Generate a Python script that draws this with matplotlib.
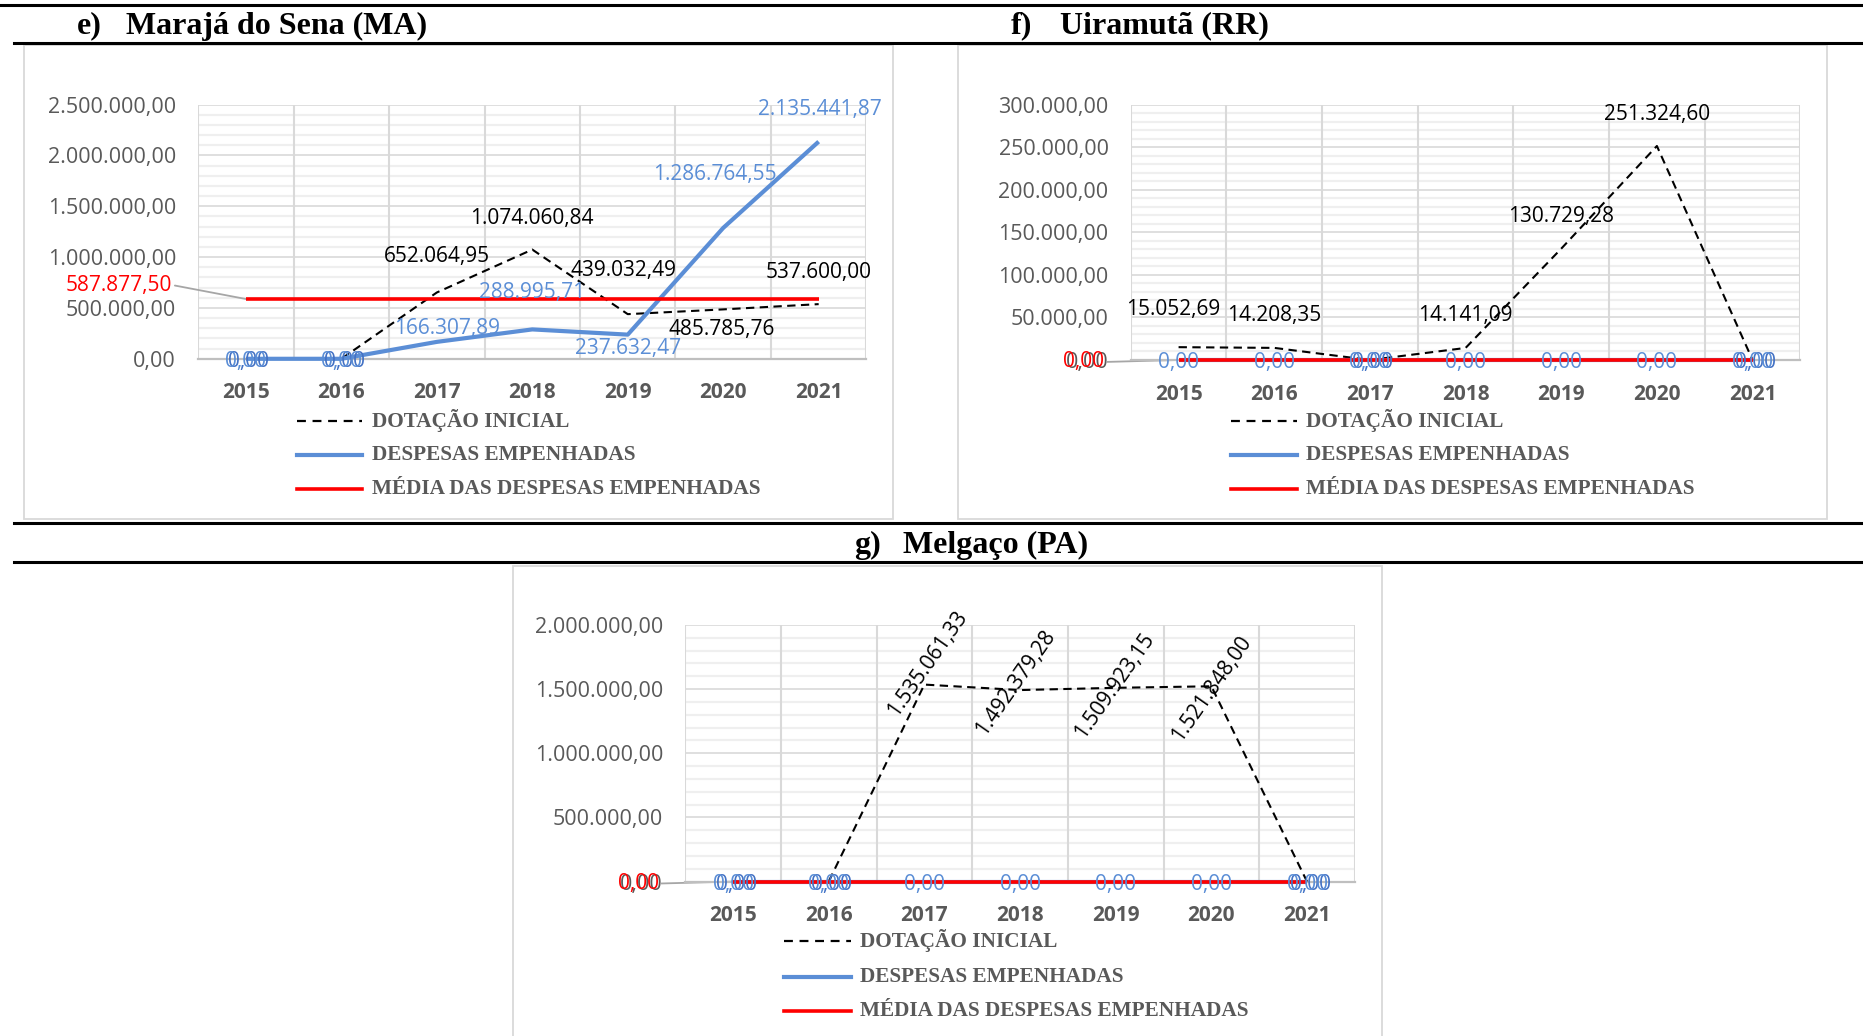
import matplotlib
matplotlib.use('Agg')
import matplotlib.pyplot as plt
from matplotlib.lines import Line2D
from matplotlib.patches import Rectangle
from matplotlib.ticker import MultipleLocator

# ---------------- data ----------------
years = ['2015', '2016', '2017', '2018', '2019', '2020', '2021']

e_title = 'Marajá do Sena (MA)'
e_dotacao = [0.00, 0.00, 652064.95, 1074060.84, 439032.49, 485785.76, 537600.00]
e_despesas = [0.00, 0.00, 166307.89, 288995.71, 237632.47, 1286764.55, 2135441.87]
e_media = 587877.50

f_title = 'Uiramutã (RR)'
f_dotacao = [15052.69, 14208.35, 0.00, 14141.09, 130729.28, 251324.60, 0.00]
f_despesas = [0.00, 0.00, 0.00, 0.00, 0.00, 0.00, 0.00]
f_media = 0.00

g_title = 'Melgaço (PA)'
g_dotacao = [0.00, 0.00, 1535061.33, 1492379.28, 1509923.15, 1521848.00, 0.00]
g_despesas = [0.00, 0.00, 0.00, 0.00, 0.00, 0.00, 0.00]
g_media = 0.00

legend_labels = ['DOTAÇÃO INICIAL', 'DESPESAS EMPENHADAS', 'MÉDIA DAS DESPESAS EMPENHADAS']

# ---------------- style ----------------
DW, DH = 1568, 872
BLUE = '#5B8ED6'
BLUE_DARK = '#4472C4'
RED = '#FF0000'
GRAY_TXT = '#595959'
SANS = ['Open Sans', 'DejaVu Sans']
SERIF = ['Liberation Serif', 'DejaVu Serif']
LBL = 15

fig = plt.figure(figsize=(18.63, 10.36), dpi=100)


def fx(x):
    return x / DW


def fy(y):
    return 1 - y / DH


def br(v):
    s = f"{v:,.2f}"
    return s.replace(',', '#').replace('.', ',').replace('#', '.')


# black rules
for (x0, y) in [(0, 4), (12, 36), (12, 440), (12, 473)]:
    fig.add_artist(Line2D([fx(x0), 1], [fy(y), fy(y)], color='black', lw=2.2,
                          transform=fig.transFigure))

# panel frames
for (x0, y0, x1, y1) in [(20, 38, 752, 437), (806, 38, 1538, 437), (432, 476, 1163, 880)]:
    fig.add_artist(Rectangle((fx(x0), fy(y1)), fx(x1) - fx(x0), fy(y0) - fy(y1),
                             transform=fig.transFigure, fill=False,
                             edgecolor='#D9D9D9', lw=1.3))

# titles
for (xl, xt, y, letter, title) in [(65, 106, 22, 'e)', e_title),
                                    (851, 892, 22, 'f)', f_title),
                                    (719, 760, 459, 'g)', g_title)]:
    fig.text(fx(xl), fy(y), letter, ha='left', va='center', family=SERIF,
             weight='bold', fontsize=23)
    fig.text(fx(xt), fy(y), title, ha='left', va='center', family=SERIF,
             weight='bold', fontsize=23)


def legend(xl0, xl1, xt, ys):
    styles = [dict(color='black', lw=1.6, ls=(0, (4, 3))),
              dict(color=BLUE, lw=3.0),
              dict(color=RED, lw=2.6)]
    for y, st, lab in zip(ys, styles, legend_labels):
        fig.add_artist(Line2D([fx(xl0), fx(xl1)], [fy(y), fy(y)],
                              transform=fig.transFigure, **st))
        fig.text(fx(xt), fy(y), lab, ha='left', va='center', family=SERIF,
                 weight='bold', fontsize=15.3, color=GRAY_TXT)


def make_axes(x0, x1, ytop, ybot, ymax, major, minor, ytick_labels):
    ax = fig.add_axes([fx(x0), fy(ybot), fx(x1) - fx(x0), fy(ytop) - fy(ybot)])
    ax.set_xlim(-0.5, 6.5)
    ax.set_ylim(0, ymax)
    ax.patch.set_alpha(0)
    for s in ['top', 'right', 'left']:
        ax.spines[s].set_visible(False)
    ax.spines['bottom'].set_color('#BFBFBF')
    ax.spines['bottom'].set_linewidth(1.6)
    ax.spines['bottom'].set_zorder(2.5)
    yt = [i * major for i in range(len(ytick_labels))]
    ax.set_yticks(yt)
    ax.set_yticklabels(ytick_labels, family=SANS, fontsize=15.5, color=GRAY_TXT)
    ax.yaxis.set_minor_locator(MultipleLocator(minor))
    ax.set_xticks(range(7))
    ax.set_xticklabels(years, family=SANS, fontsize=LBL, color=GRAY_TXT, weight='bold')
    ax.tick_params(axis='both', which='both', length=0)
    ax.tick_params(axis='y', pad=16)
    ax.tick_params(axis='x', pad=17)
    ax.grid(which='minor', axis='y', color='#EFEFEF', lw=1.6, zorder=0)
    ax.grid(which='major', axis='y', color='#D9D9D9', lw=1.2, zorder=0.5)
    ax.set_axisbelow(True)
    for b in [-0.5 + i for i in range(8)]:
        ax.axvline(b, color='#D9D9D9', lw=1.5, zorder=0.6)
    return ax


def lab(ax, i, v, text, dx, dy, color, rot=0, size=LBL):
    ax.annotate(text, xy=(i, v), xytext=(dx, dy), textcoords='offset pixels',
                ha='center', va='center', color=color, family=SANS, fontsize=size,
                rotation=rot, rotation_mode='anchor', zorder=10, annotation_clip=False)


def plot_series(ax, dot, desp, media):
    x = range(7)
    ax.plot(x, dot, color='black', lw=1.5, ls=(0, (4, 2.6)), zorder=3, clip_on=False)
    ax.plot(x, desp, color=BLUE, lw=3.0, zorder=4, solid_capstyle='butt', clip_on=False)
    ax.plot([0, 6], [media, media], color=RED, lw=2.6, zorder=5,
            solid_capstyle='butt', clip_on=False)


# ---------------- panel e ----------------
axe = make_axes(166.8, 729.2, 88, 302, 2500000, 500000, 100000,
                ['0,00', '500.000,00', '1.000.000,00', '1.500.000,00',
                 '2.000.000,00', '2.500.000,00'])
plot_series(axe, e_dotacao, e_despesas, e_media)
e_desp_off = [(0, -3), (0, -3), (10, 13), (0, 37), (0, -14), (-8, 53), (1, 32)]
e_dot_off = [None, None, (0, 36), (0, 31), (-4, 44), (-2, -20), (0, 32)]
for i in range(7):
    if e_dotacao[i] == 0:
        lab(axe, i, e_dotacao[i], br(e_dotacao[i]), 3, -3, BLUE_DARK)
    else:
        dx, dy = e_dot_off[i]
        lab(axe, i, e_dotacao[i], br(e_dotacao[i]), dx, dy, 'black')
    dx, dy = e_desp_off[i]
    lab(axe, i, e_despesas[i], br(e_despesas[i]), dx, dy, BLUE)
axe.annotate(br(e_media), xy=(0, e_media), xytext=(-127, 14), textcoords='offset pixels',
             ha='center', va='center', color=RED, family=SANS, fontsize=LBL,
             annotation_clip=False,
             arrowprops=dict(arrowstyle='-', color='#A6A6A6', lw=1.3, shrinkA=0,
                             shrinkB=0, relpos=(1, 0.5)))
legend(250, 305, 313, [354, 383, 412])

# ---------------- panel f ----------------
axf = make_axes(951.7, 1515.3, 88, 303, 300000, 50000, 10000,
                ['0,00', '50.000,00', '100.000,00', '150.000,00', '200.000,00',
                 '250.000,00', '300.000,00'])
plot_series(axf, f_dotacao, f_despesas, f_media)
f_dot_off = [(-5, 38), (0, 32), None, (0, 32), (0, 32), (0, 31), None]
for i in range(7):
    if f_dotacao[i] == 0:
        lab(axf, i, f_dotacao[i], br(f_dotacao[i]), 3, -3, BLUE_DARK)
    else:
        dx, dy = f_dot_off[i]
        lab(axf, i, f_dotacao[i], br(f_dotacao[i]), dx, dy, 'black')
    lab(axf, i, f_despesas[i], br(f_despesas[i]), 0, -3, BLUE)
axf.annotate(br(f_media), xy=(0, f_media), xytext=(-95, -2), textcoords='offset pixels',
             ha='center', va='center', color=RED, family=SANS, fontsize=LBL,
             annotation_clip=False, zorder=1,
             arrowprops=dict(arrowstyle='-', color='#A6A6A6', lw=1.3, shrinkA=0,
                             shrinkB=0, relpos=(1, 0.5)))
legend(1036, 1092, 1099, [354, 383, 412])

# ---------------- panel g ----------------
axg = make_axes(576.7, 1140.3, 526, 742, 2000000, 500000, 100000,
                ['0,00', '500.000,00', '1.000.000,00', '1.500.000,00', '2.000.000,00'])
plot_series(axg, g_dotacao, g_despesas, g_media)
g_dot_off = [None, None, (3, 21), (-5, 7), (-1, 2), (0, -2), None]
for i in range(7):
    if g_dotacao[i] == 0:
        lab(axg, i, g_dotacao[i], br(g_dotacao[i]), 3, -3, BLUE_DARK)
    else:
        dx, dy = g_dot_off[i]
        lab(axg, i, g_dotacao[i], br(g_dotacao[i]), dx, dy, 'black', rot=55)
    lab(axg, i, g_despesas[i], br(g_despesas[i]), 0, -3, BLUE)
axg.annotate(br(g_media), xy=(0, g_media), xytext=(-95, -2), textcoords='offset pixels',
             ha='center', va='center', color=RED, family=SANS, fontsize=LBL,
             annotation_clip=False, zorder=1,
             arrowprops=dict(arrowstyle='-', color='#A6A6A6', lw=1.3, shrinkA=0,
                             shrinkB=0, relpos=(1, 0.5)))
legend(660, 716, 724, [792, 822, 851])

fig.savefig('out.png', dpi=100)
